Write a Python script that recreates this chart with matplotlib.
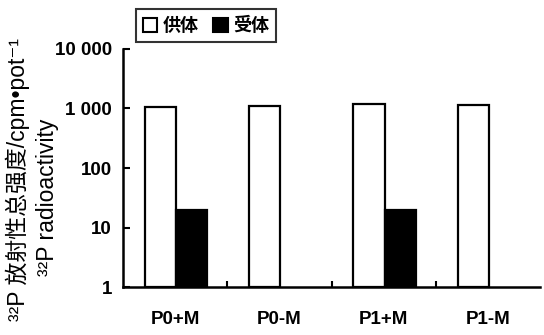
import numpy as np
import matplotlib.pyplot as plt
from matplotlib.patches import Patch

plt.rcParams['font.family'] = ['Liberation Sans', 'Noto Sans CJK SC', 'DejaVu Sans']

# data
categories = ["P0+M", "P0-M", "P1+M", "P1-M"]
donor = [1050, 1080, 1190, 1150]
acceptor = [19.5, np.nan, 20, np.nan]
legend_labels = ["供体", "受体"]
ytick_vals = [1, 10, 100, 1000, 10000]
ytick_labels = ["1", "10", "100", "1 000", "10 000"]

fig = plt.figure(figsize=(5.44, 3.35), dpi=100)
ax = fig.add_axes([0.226, 0.143, 0.767, 0.711])

x = np.arange(len(categories))
w = 0.3
base = 1.0
ax.bar(x - 0.14, np.array(donor) - base, bottom=base, width=w,
       color="white", edgecolor="black", linewidth=1.6)
ax.bar(x + 0.16, np.array(acceptor) - base, bottom=base, width=w,
       color="black", edgecolor="black", linewidth=1.6)

ax.set_yscale("log")
ax.set_ylim(1, 10000)
ax.set_xlim(-0.5, 3.5)
ax.set_yticks(ytick_vals)
ax.set_yticklabels(ytick_labels, fontsize=13.5, fontweight="bold")
ax.yaxis.set_minor_locator(plt.NullLocator())
ax.tick_params(axis="y", direction="in", length=5, width=1.5, pad=8)

ax.set_xticks(x)
ax.set_xticklabels(categories, fontsize=13.5, fontweight="bold")
ax.tick_params(axis="x", which="major", length=0, pad=17)
ax.set_xticks([0.5, 1.5, 2.5], minor=True)
ax.tick_params(axis="x", which="minor", direction="in", length=4, width=1.5)

for side in ["top", "right"]:
    ax.spines[side].set_visible(False)
for side in ["left", "bottom"]:
    ax.spines[side].set_linewidth(1.8)

# two-line y label
fig.text(0.033, 0.463, "³²P 放射性总强度/cpm•pot⁻¹", rotation=90,
         ha="center", va="center", fontsize=16.5)
fig.text(0.088, 0.41, "³²P radioactivity", rotation=90,
         ha="center", va="center", fontsize=16.5)

handles = [Patch(facecolor="white", edgecolor="black", linewidth=1.5),
           Patch(facecolor="black", edgecolor="black", linewidth=1.5)]
leg = fig.legend(handles, legend_labels, loc="upper left",
                 bbox_to_anchor=(0.233, 1.0), ncol=2, frameon=True,
                 fancybox=False, handlelength=0.8, handleheight=0.8,
                 handletextpad=0.3, columnspacing=0.8, borderpad=0.4,
                 prop={"family": "Noto Sans CJK SC", "size": 13, "weight": "bold"})
leg.get_frame().set_edgecolor("black")
leg.get_frame().set_linewidth(1.5)

fig.savefig("out.png", dpi=100)
